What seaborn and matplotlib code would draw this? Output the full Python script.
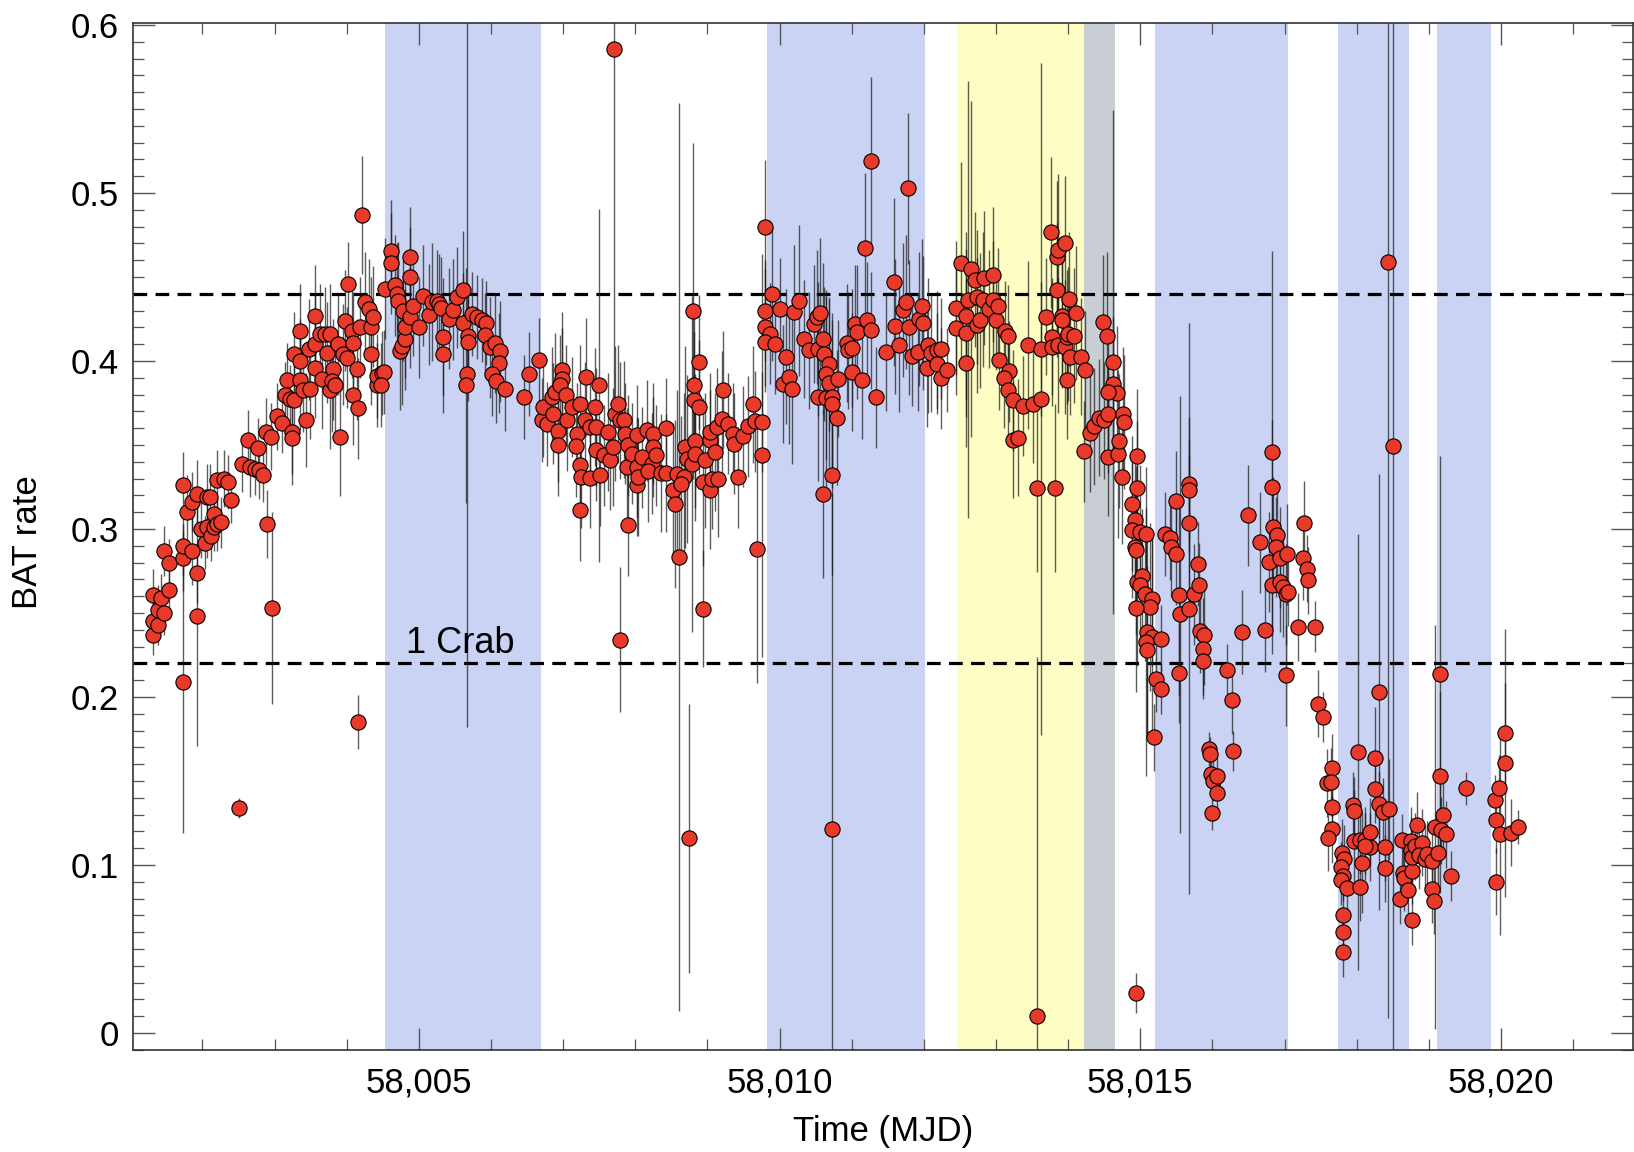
import numpy as np
import pandas as pd
import matplotlib
matplotlib.use("Agg")
import matplotlib.pyplot as plt
from matplotlib.ticker import MultipleLocator, FuncFormatter
import seaborn as sns

# ---------------------------------------------------------------------------
# Swift/BAT light curve (MJD, count rate, 1-sigma error), grouped by interval
# ---------------------------------------------------------------------------
mjd_rise = [58001.31, 58001.31, 58001.31, 58001.39, 58001.39, 58001.43, 58001.46, 58001.46, 58001.53, 58001.53,
            58001.73, 58001.73, 58001.73, 58001.73, 58001.79, 58001.85, 58001.85, 58001.92, 58001.92, 58001.92,
            58001.98, 58002.04, 58002.06, 58002.06, 58002.10, 58002.12, 58002.16, 58002.20, 58002.16, 58002.20,
            58002.25, 58002.30, 58002.35, 58002.40, 58002.50, 58002.55, 58002.63, 58002.66, 58002.73, 58002.78,
            58002.84, 58002.77, 58002.90, 58002.97, 58002.88, 58002.95, 58003.03, 58003.10, 58003.24, 58003.24,
            58003.17, 58003.15, 58003.21, 58003.27, 58003.27, 58003.35, 58003.35, 58003.35, 58003.44, 58003.40,
            58003.49, 58003.48, 58003.56, 58003.56, 58003.56, 58003.63, 58003.65, 58003.70, 58003.77, 58003.72,
            58003.77, 58003.81, 58003.79, 58003.84, 58003.88, 58003.90, 58003.95, 58003.97, 58004.00, 58004.07,
            58004.09, 58004.08, 58004.14, 58004.15, 58004.18, 58004.02, 58004.15, 58004.21, 58004.25, 58004.31,
            58004.34, 58004.34, 58004.36, 58004.42, 58004.42, 58004.49]
rate_rise = [0.237, 0.261, 0.245, 0.243, 0.252, 0.259, 0.250, 0.287, 0.280, 0.2635,
             0.326, 0.283, 0.290, 0.209, 0.310, 0.316, 0.287, 0.321, 0.274, 0.248,
             0.300, 0.292, 0.301, 0.319, 0.319, 0.296, 0.309, 0.329, 0.301, 0.303,
             0.304, 0.330, 0.328, 0.3175, 0.134, 0.339, 0.353, 0.337, 0.336, 0.335,
             0.332, 0.348, 0.303, 0.253, 0.358, 0.355, 0.367, 0.363, 0.358, 0.354,
             0.3885, 0.3795, 0.3775, 0.3766, 0.404, 0.400, 0.418, 0.389, 0.3647, 0.383,
             0.3835, 0.407, 0.410, 0.427, 0.396, 0.416, 0.3895, 0.416, 0.416, 0.405,
             0.3825, 0.395, 0.388, 0.3855, 0.410, 0.3548, 0.404, 0.424, 0.402, 0.418,
             0.411, 0.380, 0.395, 0.372, 0.420, 0.446, 0.185, 0.487, 0.435, 0.431,
             0.420, 0.404, 0.4265, 0.3855, 0.391, 0.393]
err_rise = [0.012, 0.015, 0.012, 0.012, 0.015, 0.014, 0.013, 0.015, 0.014, 0.012,
            0.020, 0.020, 0.018, 0.090, 0.022, 0.018, 0.020, 0.020, 0.018, 0.077,
            0.017, 0.016, 0.018, 0.020, 0.020, 0.015, 0.016, 0.018, 0.014, 0.016,
            0.015, 0.017, 0.016, 0.014, 0.006, 0.017, 0.018, 0.018, 0.016, 0.017,
            0.016, 0.018, 0.020, 0.057, 0.020, 0.020, 0.020, 0.018, 0.025, 0.028,
            0.022, 0.020, 0.020, 0.022, 0.025, 0.025, 0.028, 0.030, 0.028, 0.025,
            0.030, 0.030, 0.030, 0.030, 0.030, 0.030, 0.030, 0.028, 0.030, 0.030,
            0.035, 0.030, 0.030, 0.030, 0.030, 0.035, 0.030, 0.030, 0.030, 0.028,
            0.030, 0.030, 0.030, 0.030, 0.030, 0.025, 0.016, 0.035, 0.030, 0.030,
            0.030, 0.030, 0.030, 0.025, 0.025, 0.025]

mjd_win1 = [58004.51, 58004.48, 58004.62, 58004.62, 58004.53, 58004.67, 58004.69, 58004.71, 58004.78, 58004.87,
            58004.87, 58004.74, 58004.76, 58004.81, 58004.81, 58004.88, 58004.92, 58005.00, 58005.06, 58005.14,
            58005.18, 58005.25, 58005.28, 58005.31, 58005.33, 58005.33, 58005.42, 58005.47, 58005.53, 58005.61,
            58005.61, 58005.68, 58005.68, 58005.67, 58005.65, 58005.73, 58005.80, 58005.87, 58005.93, 58005.91,
            58005.98, 58006.05, 58006.12, 58006.11, 58006.01, 58006.07, 58006.19, 58006.46, 58006.53, 58006.67]
rate_win1 = [0.3934, 0.3855, 0.4658, 0.4582, 0.443, 0.445, 0.440, 0.436, 0.430, 0.4618,
             0.450, 0.406, 0.409, 0.413, 0.420, 0.426, 0.433, 0.420, 0.439, 0.4277,
             0.435, 0.436, 0.4337, 0.4317, 0.4146, 0.404, 0.4252, 0.4305, 0.438, 0.4424,
             0.4226, 0.4152, 0.4113, 0.3924, 0.3855, 0.4281, 0.4265, 0.4245, 0.4226, 0.4156,
             0.4083, 0.4107, 0.4059, 0.3988, 0.3924, 0.388, 0.3835, 0.3785, 0.3924, 0.4004]
err_win1 = [0.025, 0.025, 0.030, 0.030, 0.030, 0.030, 0.030, 0.035, 0.030, 0.030,
            0.030, 0.035, 0.035, 0.030, 0.030, 0.030, 0.030, 0.030, 0.030, 0.030,
            0.035, 0.030, 0.030, 0.030, 0.035, 0.035, 0.030, 0.030, 0.030, 0.035,
            0.030, 0.030, 0.035, 0.210, 0.070, 0.025, 0.025, 0.025, 0.025, 0.025,
            0.030, 0.030, 0.030, 0.030, 0.025, 0.025, 0.025, 0.025, 0.025, 0.025]

mjd_mid = [58006.70, 58006.77, 58006.72, 58006.84, 58006.88, 58006.98, 58006.99, 58006.95, 58006.86, 58006.93,
           58006.93, 58007.04, 58007.05, 58007.12, 58007.19, 58007.18, 58007.23, 58007.31, 58007.23, 58007.24,
           58007.37, 58007.23, 58007.30, 58007.37, 58007.45, 58007.44, 58007.50, 58007.51, 58007.45, 58007.56,
           58007.65, 58007.62, 58007.69, 58007.72, 58007.71, 58007.76, 58007.79, 58007.79, 58007.84, 58007.86,
           58007.90, 58007.90, 58007.88, 58007.96, 58008.02, 58008.02, 58008.04, 58008.09, 58008.02, 58008.16,
           58008.25, 58008.24, 58008.23, 58008.29, 58008.18, 58008.43, 58008.36, 58008.43, 58008.52, 58008.55,
           58008.58, 58008.61, 58008.69, 58008.67, 58008.64, 58008.71, 58008.78, 58008.83, 58008.83, 58008.81,
           58008.82, 58008.88, 58008.88, 58008.80, 58008.75, 58008.94, 58008.94, 58008.96, 58009.03, 58009.03,
           58009.06, 58009.10, 58009.03, 58009.13, 58009.15, 58009.21, 58009.20, 58009.29, 58009.36, 58009.37,
           58009.43, 58009.49, 58009.56, 58009.63, 58009.66, 58009.75, 58009.69, 58009.76]
rate_mid = [0.3647, 0.3623, 0.3726, 0.3785, 0.3815, 0.3944, 0.3895, 0.3855, 0.3687, 0.3583,
            0.3498, 0.3795, 0.3647, 0.3726, 0.3567, 0.3492, 0.3746, 0.3904, 0.3379, 0.3309,
            0.3306, 0.3111, 0.3647, 0.3607, 0.3607, 0.3726, 0.3855, 0.332, 0.3468, 0.3438,
            0.3413, 0.3577, 0.3488, 0.3687, 0.586, 0.3746, 0.3647, 0.2342, 0.3651, 0.3567,
            0.3498, 0.3022, 0.3369, 0.3449, 0.326, 0.3369, 0.3309, 0.3428, 0.3557, 0.3587,
            0.3567, 0.3488, 0.3389, 0.3438, 0.3345, 0.3601, 0.3333, 0.3333, 0.323, 0.3147,
            0.3329, 0.2834, 0.3488, 0.3309, 0.327, 0.3419, 0.3389, 0.3524, 0.3449, 0.377,
            0.3859, 0.3993, 0.3726, 0.430, 0.116, 0.2526, 0.328, 0.3409, 0.323, 0.3528,
            0.330, 0.3458, 0.3577, 0.3607, 0.330, 0.3829, 0.3657, 0.3627, 0.3567, 0.3508,
            0.3309, 0.3551, 0.3611, 0.3742, 0.3642, 0.3637, 0.2883, 0.3438]
err_mid = [0.025, 0.025, 0.030, 0.030, 0.035, 0.035, 0.030, 0.030, 0.030, 0.030,
           0.030, 0.030, 0.030, 0.030, 0.030, 0.030, 0.035, 0.035, 0.030, 0.030,
           0.030, 0.030, 0.035, 0.030, 0.035, 0.035, 0.105, 0.030, 0.030, 0.030,
           0.030, 0.035, 0.035, 0.040, 0.217, 0.035, 0.035, 0.043, 0.035, 0.030,
           0.030, 0.030, 0.035, 0.030, 0.030, 0.030, 0.035, 0.030, 0.030, 0.030,
           0.030, 0.030, 0.030, 0.030, 0.030, 0.030, 0.035, 0.035, 0.040, 0.050,
           0.050, 0.270, 0.060, 0.050, 0.040, 0.050, 0.100, 0.040, 0.040, 0.040,
           0.040, 0.040, 0.040, 0.100, 0.080, 0.035, 0.050, 0.040, 0.035, 0.030,
           0.030, 0.035, 0.035, 0.035, 0.035, 0.035, 0.040, 0.030, 0.030, 0.030,
           0.030, 0.030, 0.030, 0.035, 0.030, 0.030, 0.080, 0.120]

mjd_win2 = [58009.80, 58009.80, 58009.89, 58009.80, 58009.86, 58009.80, 58009.93, 58010.00, 58010.09, 58010.05,
            58010.13, 58010.17, 58010.20, 58010.27, 58010.34, 58010.41, 58010.48, 58010.52, 58010.56, 58010.53,
            58010.60, 58010.61, 58010.68, 58010.65, 58010.69, 58010.81, 58010.53, 58010.65, 58010.73, 58010.73,
            58010.80, 58010.73, 58010.60, 58010.73, 58010.93, 58010.95, 58011.01, 58011.00, 58011.04, 58011.07,
            58011.14, 58011.21, 58011.26, 58011.19, 58011.26, 58011.33, 58011.47, 58011.59, 58011.60, 58011.65,
            58011.71, 58011.75, 58011.79, 58011.78, 58011.84, 58011.92, 58011.93, 58011.98, 58011.99, 58012.05,
            58012.06, 58012.10, 58012.18, 58012.18, 58012.24, 58012.32]
rate_win2 = [0.4797, 0.430, 0.440, 0.420, 0.4162, 0.4113, 0.4103, 0.4311, 0.4027, 0.3865,
             0.3904, 0.3835, 0.4291, 0.436, 0.4132, 0.4063, 0.4222, 0.4261, 0.4285, 0.4073,
             0.4132, 0.4043, 0.3984, 0.392, 0.3869, 0.3895, 0.3789, 0.3782, 0.3785, 0.3746,
             0.3663, 0.3324, 0.321, 0.1215, 0.4107, 0.4063, 0.4077, 0.3934, 0.4222, 0.4172,
             0.3885, 0.4242, 0.4182, 0.4672, 0.5189, 0.3785, 0.4055, 0.447, 0.4206, 0.4097,
             0.4305, 0.435, 0.420, 0.5029, 0.4033, 0.4053, 0.4252, 0.4325, 0.4226, 0.396,
             0.4093, 0.4047, 0.4067, 0.3984, 0.3898, 0.3944]
err_win2 = [0.040, 0.030, 0.040, 0.035, 0.030, 0.030, 0.030, 0.030, 0.040, 0.035,
            0.040, 0.045, 0.040, 0.045, 0.035, 0.035, 0.035, 0.040, 0.045, 0.040,
            0.045, 0.040, 0.040, 0.050, 0.050, 0.035, 0.050, 0.060, 0.050, 0.050,
            0.040, 0.060, 0.050, 0.200, 0.035, 0.035, 0.035, 0.035, 0.035, 0.040,
            0.035, 0.035, 0.035, 0.045, 0.050, 0.030, 0.035, 0.050, 0.040, 0.040,
            0.040, 0.040, 0.040, 0.045, 0.030, 0.035, 0.040, 0.040, 0.040, 0.035,
            0.040, 0.035, 0.035, 0.030, 0.030, 0.025]

mjd_peak = [58012.24, 58012.44, 58012.45, 58012.52, 58012.58, 58012.59, 58012.59, 58012.61, 58012.65, 58012.71,
            58012.73, 58012.73, 58012.78, 58012.82, 58012.84, 58012.90, 58012.96, 58012.96, 58013.00, 58013.03,
            58013.04, 58013.12, 58013.17, 58013.18, 58013.11, 58013.17, 58013.24, 58013.23, 58013.31, 58013.37,
            58013.45, 58013.51, 58013.57, 58013.57, 58013.63, 58013.63, 58013.69, 58013.76, 58013.77, 58013.77,
            58013.82, 58013.84, 58013.86, 58013.95, 58013.84, 58013.91, 58013.91, 58013.86, 58013.95, 58013.98,
            58014.00, 58014.08, 58014.01, 58014.11, 58014.03, 58013.98, 58014.18, 58014.24, 58014.22, 58014.30,
            58014.36, 58014.43, 58014.49, 58014.55, 58014.55, 58014.48, 58014.54, 58014.62, 58014.62, 58014.68,
            58014.69, 58014.70, 58014.76, 58014.77, 58014.75, 58014.55]
rate_peak = [0.4073, 0.4196, 0.4317, 0.4585, 0.4271, 0.4166, 0.3988, 0.4366, 0.4545, 0.4485,
             0.438, 0.4212, 0.4242, 0.4366, 0.4496, 0.4311, 0.4515, 0.4366, 0.4246, 0.4325,
             0.4008, 0.4176, 0.4152, 0.394, 0.3901, 0.3829, 0.3766, 0.3532, 0.3544, 0.3732,
             0.4093, 0.3746, 0.3246, 0.010, 0.3776, 0.4073, 0.4265, 0.4767, 0.4146, 0.4083,
             0.3246, 0.4622, 0.4662, 0.4701, 0.4424, 0.4271, 0.4242, 0.4093, 0.4083, 0.4142,
             0.4162, 0.4152, 0.437, 0.4285, 0.4027, 0.3889, 0.4027, 0.3948, 0.3464, 0.3571,
             0.3611, 0.3663, 0.3647, 0.3682, 0.3428, 0.4231, 0.4152, 0.3993, 0.3865, 0.3809,
             0.3449, 0.3524, 0.3682, 0.3637, 0.3309, 0.3815]
err_peak = [0.030, 0.040, 0.040, 0.060, 0.050, 0.050, 0.050, 0.130, 0.100, 0.040,
            0.040, 0.040, 0.040, 0.040, 0.040, 0.035, 0.040, 0.035, 0.030, 0.035,
            0.030, 0.030, 0.030, 0.030, 0.030, 0.030, 0.030, 0.035, 0.035, 0.030,
            0.050, 0.035, 0.050, 0.214, 0.200, 0.040, 0.035, 0.045, 0.035, 0.035,
            0.050, 0.045, 0.045, 0.040, 0.040, 0.040, 0.040, 0.040, 0.040, 0.040,
            0.040, 0.040, 0.040, 0.040, 0.035, 0.035, 0.035, 0.035, 0.030, 0.035,
            0.035, 0.035, 0.035, 0.035, 0.035, 0.040, 0.050, 0.150, 0.040, 0.040,
            0.050, 0.040, 0.040, 0.040, 0.040, 0.040]

mjd_decay = [58014.95, 58014.95, 58014.88, 58014.92, 58014.88, 58014.99, 58014.92, 58014.94, 58015.08, 58014.94,
             58014.95, 58015.02, 58015.00, 58015.06, 58015.16, 58015.13, 58014.94, 58015.09, 58015.16, 58015.08,
             58015.09, 58015.29, 58015.22, 58015.28, 58015.19, 58015.34, 58015.41, 58015.43, 58015.49, 58015.50,
             58015.54, 58015.55, 58015.54, 58015.67, 58015.67, 58015.67, 58015.67, 58015.75, 58015.81, 58015.80,
             58015.83, 58015.88, 58015.87, 58015.87, 58015.95, 58015.96, 58015.98, 58016.01, 58016.06, 58016.06,
             58016.00, 58016.20, 58016.27, 58016.28, 58016.41, 58016.49, 58016.66, 58016.73, 58016.78, 58016.83,
             58016.83, 58016.84, 58016.89, 58016.88, 58016.94, 58017.03, 58016.82, 58016.93, 58016.98, 58017.02,
             58017.05, 58017.02, 58017.19, 58017.27, 58017.26, 58017.31, 58017.33, 58017.42, 58017.46, 58017.53]
rate_decay = [0.3432, 0.3246, 0.3151, 0.3052, 0.2992, 0.2982, 0.2893, 0.024, 0.2968, 0.2873,
              0.2685, 0.2719, 0.2665, 0.2616, 0.2586, 0.2536, 0.2532, 0.2387, 0.2357, 0.2328,
              0.2282, 0.2348, 0.211, 0.2051, 0.176, 0.2973, 0.2949, 0.2893, 0.2849, 0.3167,
              0.2606, 0.2493, 0.2143, 0.2526, 0.3266, 0.3234, 0.3036, 0.2612, 0.2669, 0.279,
              0.2393, 0.2372, 0.2288, 0.2215, 0.169, 0.166, 0.154, 0.150, 0.143, 0.153,
              0.131, 0.2164, 0.1981, 0.168, 0.2387, 0.3081, 0.2921, 0.2397, 0.2804, 0.3458,
              0.325, 0.3012, 0.2962, 0.2893, 0.283, 0.2849, 0.2665, 0.2685, 0.2655, 0.2612,
              0.2625, 0.213, 0.2417, 0.3036, 0.283, 0.2764, 0.2695, 0.242, 0.1961, 0.1882]
err_decay = [0.040, 0.040, 0.040, 0.040, 0.040, 0.040, 0.040, 0.012, 0.040, 0.050,
             0.050, 0.040, 0.040, 0.040, 0.040, 0.050, 0.050, 0.060, 0.060, 0.080,
             0.050, 0.020, 0.020, 0.015, 0.020, 0.025, 0.025, 0.030, 0.030, 0.030,
             0.060, 0.130, 0.030, 0.170, 0.040, 0.030, 0.040, 0.030, 0.025, 0.025,
             0.025, 0.030, 0.030, 0.020, 0.010, 0.010, 0.012, 0.012, 0.012, 0.012,
             0.010, 0.015, 0.020, 0.012, 0.025, 0.030, 0.030, 0.025, 0.030, 0.120,
             0.040, 0.030, 0.030, 0.030, 0.030, 0.030, 0.030, 0.030, 0.030, 0.030,
             0.020, 0.030, 0.020, 0.025, 0.025, 0.020, 0.020, 0.015, 0.020, 0.015]

mjd_late = [58017.66, 58017.59, 58017.65, 58017.66, 58017.66, 58017.60, 58017.80, 58017.83, 58017.78, 58017.81,
            58017.78, 58017.86, 58017.81, 58017.81, 58017.81, 58017.95, 58017.96, 58017.96, 58018.02, 58018.04,
            58018.07, 58018.05, 58018.11, 58018.18, 58018.18, 58018.12, 58018.25, 58018.25, 58018.31, 58018.31,
            58018.37, 58018.45, 58018.39, 58018.39, 58018.43, 58018.50, 58018.60, 58018.63, 58018.64, 58018.66,
            58018.71, 58018.77, 58018.77, 58018.75, 58018.75, 58018.77, 58018.84, 58018.81, 58018.91, 58018.87,
            58018.94, 58018.97, 58019.05, 58019.05, 58019.07, 58019.08, 58019.12, 58019.15, 58019.16, 58019.19,
            58019.17, 58019.24, 58019.31, 58019.51, 58019.93, 58019.93, 58019.91, 58019.97, 58019.99, 58020.05,
            58020.06, 58020.14, 58020.23]
rate_late = [0.1578, 0.1489, 0.1495, 0.1346, 0.1212, 0.1164, 0.1073, 0.1039, 0.0989, 0.0934,
             0.091, 0.0861, 0.0702, 0.0603, 0.0484, 0.1356, 0.1322, 0.1144, 0.1673, 0.1148,
             0.1013, 0.087, 0.1148, 0.1198, 0.1108, 0.1112, 0.164, 0.145, 0.203, 0.1362,
             0.1316, 0.1331, 0.1105, 0.098, 0.4588, 0.3497, 0.0801, 0.1152, 0.0954, 0.0926,
             0.0851, 0.0676, 0.0966, 0.1144, 0.1089, 0.1049, 0.1237, 0.1112, 0.1132, 0.1059,
             0.1039, 0.1065, 0.0855, 0.1025, 0.0787, 0.1227, 0.1073, 0.2136, 0.1529, 0.1297,
             0.1208, 0.1184, 0.0934, 0.1456, 0.090, 0.1271, 0.1386, 0.1456, 0.1184, 0.1786,
             0.1608, 0.1192, 0.1227]
err_late = [0.020, 0.020, 0.020, 0.020, 0.020, 0.020, 0.020, 0.020, 0.015, 0.015,
            0.015, 0.015, 0.015, 0.015, 0.015, 0.020, 0.020, 0.030, 0.130, 0.020,
            0.030, 0.020, 0.020, 0.020, 0.020, 0.020, 0.030, 0.020, 0.130, 0.020,
            0.020, 0.030, 0.020, 0.020, 0.450, 0.400, 0.015, 0.015, 0.020, 0.020,
            0.015, 0.015, 0.020, 0.020, 0.020, 0.020, 0.020, 0.020, 0.020, 0.020,
            0.020, 0.020, 0.020, 0.020, 0.020, 0.120, 0.020, 0.130, 0.050, 0.020,
            0.020, 0.020, 0.015, 0.010, 0.020, 0.020, 0.015, 0.020, 0.060, 0.030,
            0.080, 0.020, 0.010]

# Shaded observing windows (start, end) in MJD
blue_windows = [(58004.53, 58006.69), (58009.82, 58012.01), (58015.21, 58017.05),
                (58017.74, 58018.72), (58019.11, 58019.86)]
yellow_window = (58012.46, 58014.22)
gray_window = (58014.22, 58014.65)

# Reference levels: 1 Crab and 2 Crab
crab_levels = [0.22, 0.44]
crab_label = "1 Crab"

# ---------------------------------------------------------------------------
df = pd.DataFrame({
    "mjd": mjd_rise + mjd_win1 + mjd_mid + mjd_win2 + mjd_peak + mjd_decay + mjd_late,
    "rate": rate_rise + rate_win1 + rate_mid + rate_win2 + rate_peak + rate_decay + rate_late,
    "err": err_rise + err_win1 + err_mid + err_win2 + err_peak + err_decay + err_late,
})

sns.set_theme(style="ticks")
plt.rcParams["font.family"] = ["Liberation Sans", "DejaVu Sans"]
plt.rcParams["text.color"] = "black"
plt.rcParams["axes.labelcolor"] = "black"

fig = plt.figure(figsize=(16.34, 11.52), dpi=100)
ax = fig.add_axes([0.0811, 0.0885, 0.9183, 0.8918])

for a, b in blue_windows:
    ax.axvspan(a, b, color="#cad3f3", lw=0, zorder=0)
ax.axvspan(*yellow_window, color="#fefdc4", lw=0, zorder=0)
ax.axvspan(*gray_window, color="#c9ced4", lw=0, zorder=0)

for lvl in crab_levels:
    ax.axhline(lvl, color="black", lw=2.3, ls=(0, (4.3, 2.6)), zorder=1)

ax.errorbar(df["mjd"], df["rate"], yerr=df["err"], fmt="none",
            ecolor="#1a1a1a", elinewidth=1.0, alpha=0.7, capsize=0, zorder=2)
sns.scatterplot(data=df, x="mjd", y="rate", ax=ax, s=120, color="#e8392a",
                edgecolor="black", linewidth=0.8, zorder=3, legend=False)

ax.text(58004.82, 0.2265, crab_label, fontsize=26, ha="left", va="baseline", zorder=4)

ax.set_xlim(58001.03, 58021.83)
ax.set_ylim(-0.0101, 0.6014)
ax.xaxis.set_major_locator(MultipleLocator(5))
ax.xaxis.set_minor_locator(MultipleLocator(1))
ax.yaxis.set_major_locator(MultipleLocator(0.1))
ax.yaxis.set_minor_locator(MultipleLocator(0.01))
ax.xaxis.set_major_formatter(FuncFormatter(lambda v, p: f"{v:,.0f}"))
ax.yaxis.set_major_formatter(FuncFormatter(lambda v, p: "0" if abs(v) < 1e-9 else f"{v:.1f}"))

ax.tick_params(which="both", direction="in", top=True, right=True, color="#555555",
               labelcolor="black")
ax.tick_params(which="major", length=16, width=1.0, labelsize=25)
ax.tick_params(which="minor", length=8, width=0.9)
ax.tick_params(axis="x", which="major", pad=12)
ax.tick_params(axis="y", which="major", pad=10)
for sp in ax.spines.values():
    sp.set_color("#333333")
    sp.set_linewidth(1.2)

ax.set_xlabel("Time (MJD)", fontsize=25)
ax.set_ylabel("BAT rate", fontsize=25)
ax.xaxis.set_label_coords(0.5, -0.063)
ax.yaxis.set_label_coords(-0.059, 0.494)
ax.grid(False)

fig.savefig("out.png", dpi=100)
